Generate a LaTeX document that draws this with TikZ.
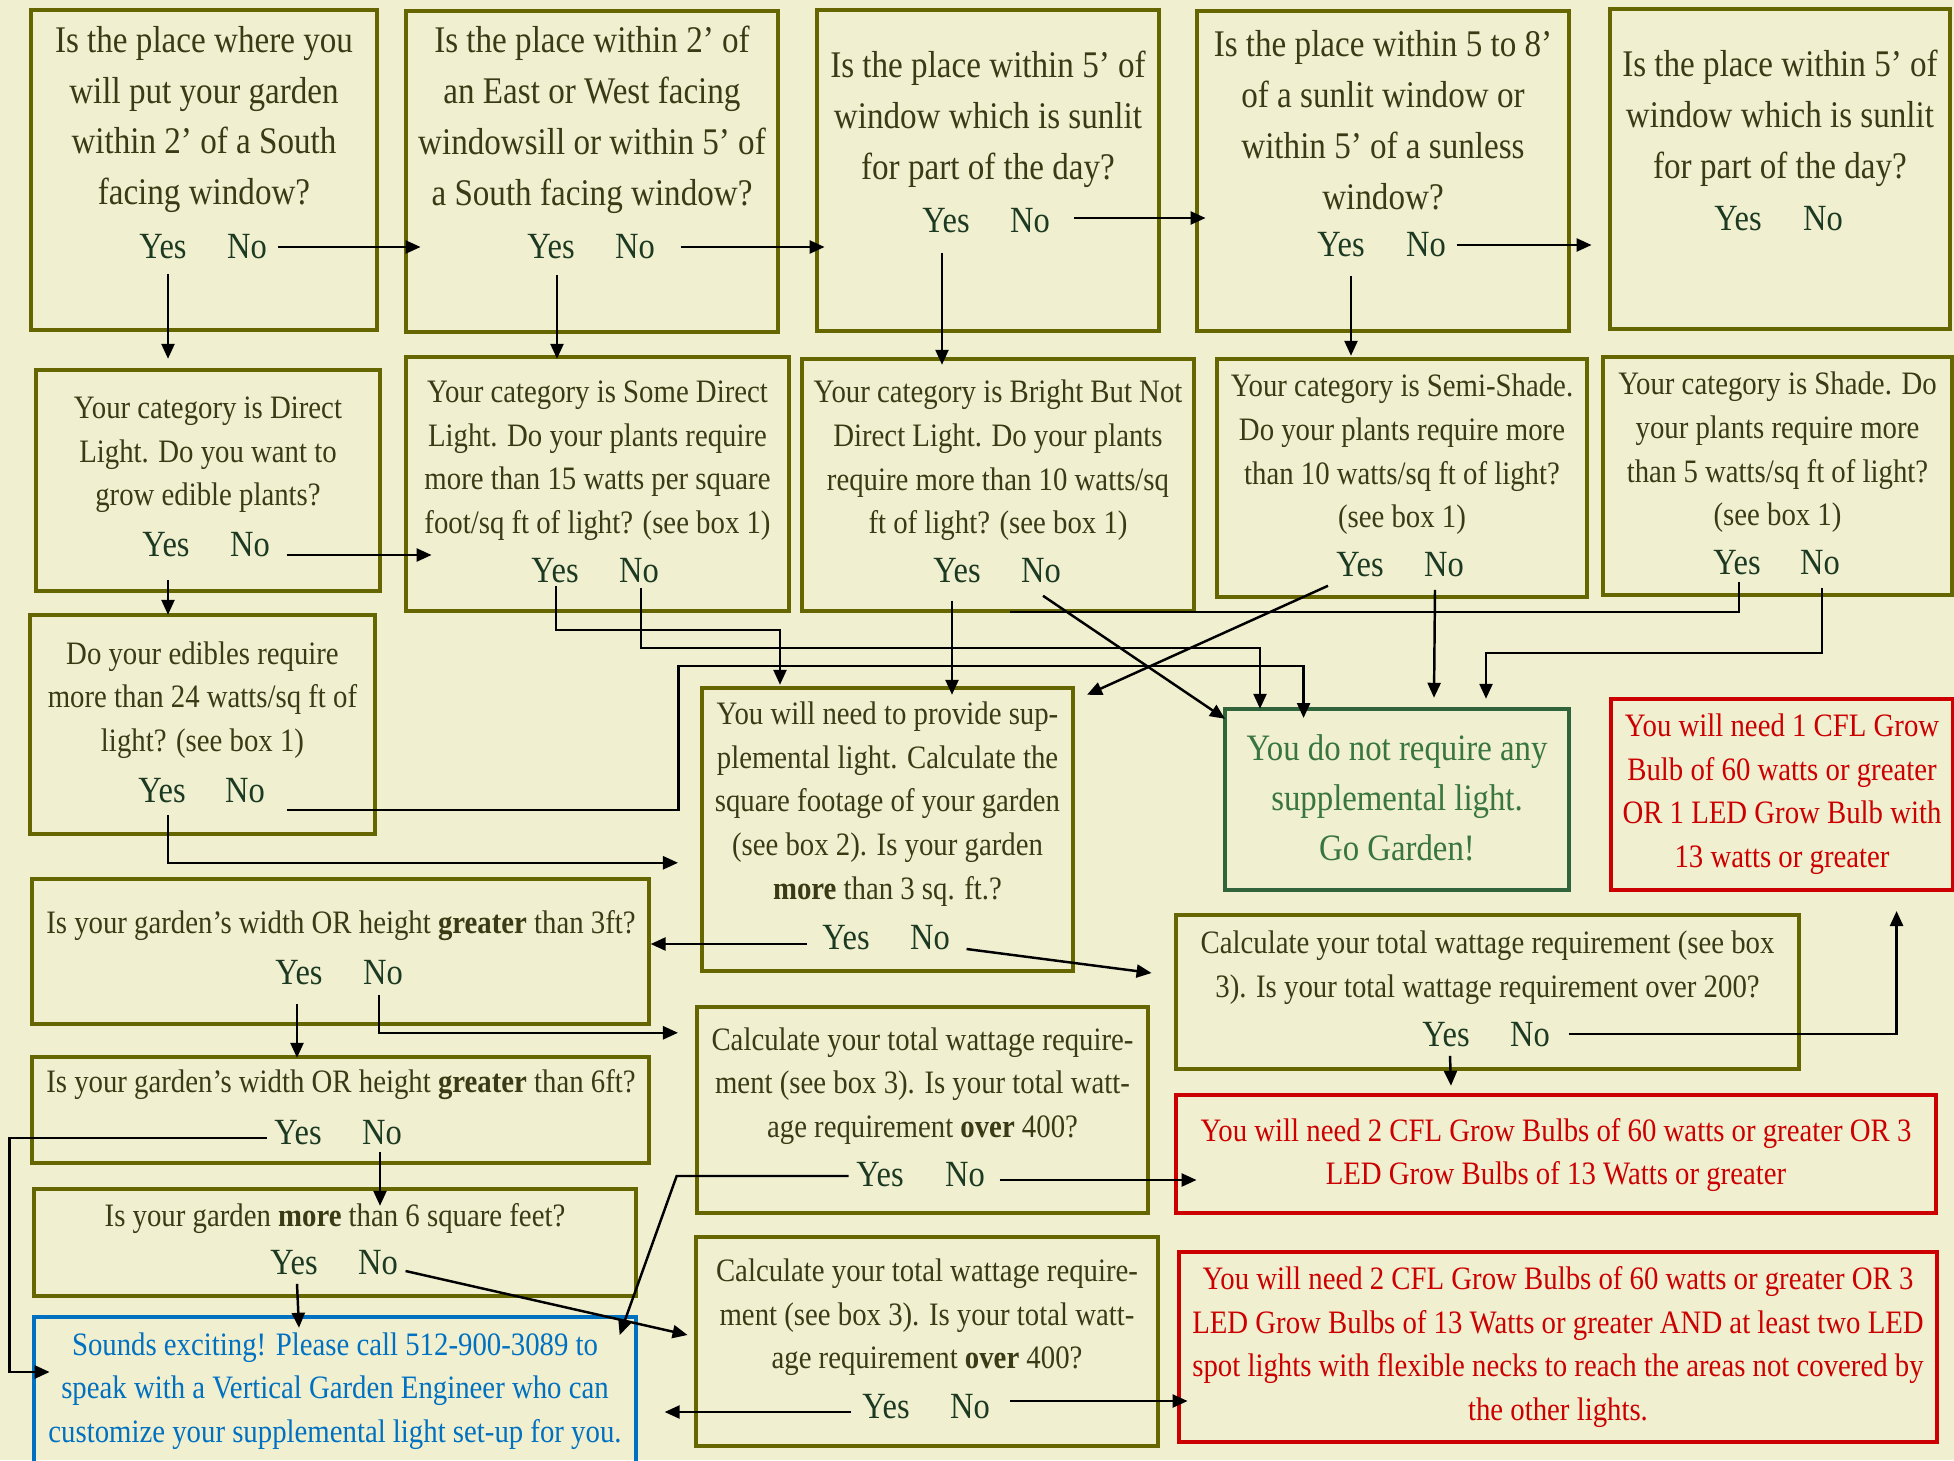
\documentclass[tikz,border=0pt]{standalone}
\usepackage{fontspec}
\setmainfont{Liberation Serif}[FakeStretch=0.88]
\usetikzlibrary{arrows.meta,fit}

\definecolor{paper}{RGB}{240,239,208}
\definecolor{boxolive}{RGB}{102,102,0}
\definecolor{qtextc}{RGB}{58,58,20}
\definecolor{ync}{RGB}{28,58,34}
\definecolor{okgreen}{RGB}{50,100,60}
\definecolor{oktext}{RGB}{56,118,62}
\definecolor{buyred}{RGB}{204,0,0}
\definecolor{callblue}{RGB}{0,112,192}

\newcommand{\bigq}{\fontsize{10.7}{14.5}\selectfont}
\newcommand{\smallq}{\fontsize{9.3}{12.4}\selectfont}

\begin{document}
\begin{tikzpicture}[x=0.01cm, y=-0.01cm,
  box/.style={draw=boxolive, line width=1pt, inner sep=0pt},
  qtext/.style={text=qtextc, align=center, inner sep=0pt},
  yn/.style={text=ync, font=\fontsize{10.5}{12}\selectfont, inner xsep=0.1cm, inner ysep=0.128cm},
  arr/.style={line width=0.7pt, -{Triangle[length=0.15cm,width=0.13cm]}},
  link/.style={line width=0.7pt}]

\useasboundingbox (0,0) rectangle (1954,1460);
\fill[paper] (0,0) rectangle (1954,1460);

% first row: where is the window
\node[box, fit={(31,10) (377,330)}] (southwin) {};
\node[qtext, font=\bigq] (southwinT) at (204,119.5)
{Is the place where you\\will put your garden\\within 2' of a South\\facing window?};
\node[yn] (southwinY) at (163,247) {Yes};
\node[yn] (southwinN) at (247,247) {No};

\node[box, fit={(406,11) (778,332)}] (eastwest) {};
\node[qtext, font=\bigq] (eastwestT) at (592,119.5)
{Is the place within 2' of\\an East or West facing\\windowsill or within 5' of\\a South facing window?};
\node[yn] (eastwestY) at (551,247) {Yes};
\node[yn] (eastwestN) at (635,247) {No};

\node[box, fit={(817,10) (1159,331)}] (sunlit) {};
\node[qtext, font=\bigq] (sunlitT) at (988,119)
{Is the place within 5' of\\window which is sunlit\\for part of the day?};
\node[yn] (sunlitY) at (946,221) {Yes};
\node[yn] (sunlitN) at (1030,221) {No};

\node[box, fit={(1197,11) (1569,331)}] (sunless) {};
\node[qtext, font=\bigq] (sunlessT) at (1383,120)
{Is the place within 5 to 8'\\of a sunlit window or\\within 5' of a sunless\\window?};
\node[yn] (sunlessY) at (1341,245) {Yes};
\node[yn] (sunlessN) at (1426,245) {No};

\node[box, fit={(1610,9) (1950,329)}] (partsun) {};
\node[qtext, font=\bigq] (partsunT) at (1780,118)
{Is the place within 5' of\\window which is sunlit\\for part of the day?};
\node[yn] (partsunY) at (1738,219) {Yes};
\node[yn] (partsunN) at (1823,219) {No};

% second row: light category
\node[box, fit={(36,370) (380,591)}] (direct) {};
\node[qtext, font=\smallq] (directT) at (208,455)
{Your category is Direct\\Light. Do you want to\\grow edible plants?};
\node[yn] (directY) at (166,545) {Yes};
\node[yn] (directN) at (250,545) {No};

\node[box, fit={(406,357) (789,611)}] (somedirect) {};
\node[qtext, font=\smallq] (somedirectT) at (597.5,460.5)
{Your category is Some Direct\\Light. Do your plants require\\more than 15 watts per square\\foot/sq ft of light? (see box 1)};
\node[yn] (somedirectY) at (555,571) {Yes};
\node[yn] (somedirectN) at (639,571) {No};

\node[box, fit={(802,359) (1194,611)}] (bright) {};
\node[qtext, font=\smallq] (brightT) at (998,460.5)
{Your category is Bright But Not\\Direct Light. Do your plants\\require more than 10 watts/sq\\ft of light? (see box 1)};
\node[yn] (brightY) at (957,571) {Yes};
\node[yn] (brightN) at (1041,571) {No};

\node[box, fit={(1217,359) (1587,597)}] (semishade) {};
\node[qtext, font=\smallq] (semishadeT) at (1402,454.5)
{Your category is Semi-Shade.\\Do your plants require more\\than 10 watts/sq ft of light?\\(see box 1)};
\node[yn] (semishadeY) at (1360,565) {Yes};
\node[yn] (semishadeN) at (1444,565) {No};

\node[box, fit={(1603,357) (1952,595)}] (shade) {};
\node[qtext, font=\smallq] (shadeT) at (1777.5,452.5)
{Your category is Shade. Do\\your plants require more\\than 5 watts/sq ft of light?\\(see box 1)};
\node[yn] (shadeY) at (1737,563) {Yes};
\node[yn] (shadeN) at (1820,563) {No};

% edibles and supplemental light
\node[box, fit={(30,615) (375,834)}] (edibles) {};
\node[qtext, font=\smallq] (ediblesT) at (202.5,700)
{Do your edibles require\\more than 24 watts/sq ft of\\light? (see box 1)};
\node[yn] (ediblesY) at (162,791) {Yes};
\node[yn] (ediblesN) at (245,791) {No};

\node[box, fit={(702,688) (1073,971)}] (supplement) {};
\node[qtext, font=\smallq] (supplementT) at (887.5,804)
{You will need to provide sup-\\plemental light. Calculate the\\square footage of your garden\\(see box 2).  Is your garden\\\textbf{more} than 3 sq. ft.?};
\node[yn] (supplementY) at (846,938) {Yes};
\node[yn] (supplementN) at (930,938) {No};

\node[draw=okgreen, line width=1pt, inner sep=0pt, fit={(1225,709) (1569,890)}] (nolight) {};
\node[qtext, text=oktext, font=\fontsize{10.6}{14.2}\selectfont] (nolightT) at (1397,798)
{You do not require any\\supplemental light.\\Go Garden!};

\node[draw=buyred, line width=1pt, inner sep=0pt, fit={(1611,699) (1953,890)}] (onecfl) {};
\node[qtext, text=buyred, font=\smallq] (onecflT) at (1782,794)
{You will need 1 CFL Grow\\Bulb of 60 watts or greater\\OR 1 LED Grow Bulb with\\13 watts or greater};

% garden size and wattage
\node[box, fit={(32,879) (649,1024)}] (threeft) {};
\node[qtext, font=\smallq] (threeftT) at (341,926)
{Is your garden's width OR height \textbf{greater} than 3ft?};
\node[yn] (threeftY) at (299,973) {Yes};
\node[yn] (threeftN) at (383,973) {No};

\node[box, fit={(1176,915) (1799,1069)}] (total200) {};
\node[qtext, font=\smallq] (total200T) at (1487.5,967.5)
{Calculate your total wattage requirement (see box\\3). Is your total wattage requirement over 200?};
\node[yn] (total200Y) at (1446,1035) {Yes};
\node[yn] (total200N) at (1530,1035) {No};

\node[box, fit={(697,1007) (1148,1213)}] (total400a) {};
\node[qtext, font=\smallq] (total400aT) at (922.5,1086)
{Calculate your total wattage require-\\ment (see box 3). Is your total watt-\\age requirement \textbf{over} 400?};
\node[yn] (total400aY) at (880,1175) {Yes};
\node[yn] (total400aN) at (965,1175) {No};

\node[box, fit={(32,1057) (649,1163)}] (sixft) {};
\node[qtext, font=\smallq] (sixftT) at (341,1085)
{Is your garden's width OR height \textbf{greater} than 6ft?};
\node[yn] (sixftY) at (298,1133) {Yes};
\node[yn] (sixftN) at (382,1133) {No};

\node[draw=buyred, line width=1pt, inner sep=0pt, fit={(1176,1095) (1936,1213)}] (twocfl) {};
\node[qtext, text=buyred, font=\smallq] (twocflT) at (1556,1155)
{You will need 2 CFL Grow Bulbs of 60 watts or greater OR 3\\LED Grow Bulbs of 13 Watts or greater};

\node[box, fit={(34,1189) (636,1296)}] (sixsqft) {};
\node[qtext, font=\smallq] (sixsqftT) at (335,1218)
{Is your garden \textbf{more} than 6 square feet?};
\node[yn] (sixsqftY) at (294,1263) {Yes};
\node[yn] (sixsqftN) at (378,1263) {No};

\node[box, fit={(696,1237) (1158,1446)}] (total400b) {};
\node[qtext, font=\smallq] (total400bT) at (927,1317.5)
{Calculate your total wattage require-\\ment (see box 3). Is your total watt-\\age requirement \textbf{over} 400?};
\node[yn] (total400bY) at (886,1407) {Yes};
\node[yn] (total400bN) at (970,1407) {No};

\node[draw=callblue, line width=1pt, inner sep=0pt, fit={(34,1317) (636,1480)}] (engineer) {};
\node[qtext, text=callblue, font=\smallq] (engineerT) at (335,1391)
{Sounds exciting! Please call 512-900-3089 to\\speak with a Vertical Garden Engineer who can\\customize your supplemental light set-up for you.};

\node[draw=buyred, line width=1pt, inner sep=0pt, fit={(1179,1252) (1937,1442)}] (spotlights) {};
\node[qtext, text=buyred, font=\smallq] (spotlightsT) at (1558,1347)
{You will need 2 CFL Grow Bulbs of 60 watts or greater OR 3\\LED Grow Bulbs of 13 Watts or greater AND at least two LED\\spot lights with flexible necks to reach the areas not covered by\\the other lights.};

% answers of the first row
\draw[arr] (southwinY.south) ++(5,1) -- ++(0,85);
\draw[arr] (southwinN.east) -- ++(143,0);
\draw[arr] (eastwestY.south) ++(6,2) -- ++(0,84);
\draw[arr] (eastwestN.east) ++(15,0) -- ++(144,0);
\draw[arr] (sunlitY.south) ++(-4,6) -- ++(0,112);
\draw[arr] (sunlitN.east) ++(13,-3) -- ++(132,0);
\draw[arr] (sunlessY.south) ++(10,5) -- ++(0,80);
\draw[arr] (sunlessN.east) -- ++(135,0);

% answers of the second row
\draw[arr] (directY.south) ++(2,9) -- ++(0,35);
\draw[arr] (directN.east) ++(6,10) -- ++(145,0);
\draw[arr] (somedirectY.south) ++(1,-11) |- ++(224,44) -- ++(0,55);
\draw[arr] (somedirectN.south) ++(2,-9) |- ++(619,60) -- ++(0,61);
\draw[arr] (brightY.south) ++(-5,4) -- ++(0,94);
\draw[arr] (brightN.south) ++(2,-1) -- ++(182,123);
\draw[arr] (semishadeY.south) ++(-32,-5) -- ++(-241,109);
\draw[arr] (semishadeN.south) ++(-9,-1) -- ++(-1,108);
\draw[link] (shadeY.south) ++(2,-7) |- ++(-729,30);
\draw[arr] (shadeN.south) ++(2,-1) |- ++(-336,65) -- ++(0,46);

% edibles
\draw[arr] (ediblesY.south) ++(6,-2) |- ++(510,48);
\draw[arr] (ediblesN.east) ++(11,19) -| ++(392,-144) -| ++(625,52);

% size and wattage answers
\draw[arr] (supplementY.west) ++(-5,6) -- ++(-156,0);
\draw[arr] (supplementN.east) ++(6,11) -- ++(185,24);
\draw[arr] (threeftY.south) ++(-2,5) -- ++(0,54);
\draw[arr] (threeftN.south) ++(-4,-4) |- ++(299,38);
\draw[arr] (total200Y.south) ++(4,-5) -- ++(1,30);
\draw[arr] (total200N.east) ++(8,-1) -| ++(328,-123);
\draw[arr] (sixftY.west) ++(3,5) -| ++(-257,234) -- ++(40,0);
\draw[arr] (sixftN.south) ++(-2,-7) -- ++(0,54);
\draw[arr] (total400aY.west) ++(3,1) -- ++(-172,0) -- ++(-57,159);
\draw[arr] (total400aN.east) ++(4,5) -- ++(197,0);
\draw[arr] (sixsqftY.south) ++(3,-5) -- ++(2,44);
\draw[arr] (sixsqftN.east) ++(-3,8) -- ++(282,64);
\draw[arr] (total400bY.west) ++(-1,5) -- ++(-186,0);
\draw[arr] (total400bN.east) ++(9,-6) -- ++(178,0);

\end{tikzpicture}
\end{document}
